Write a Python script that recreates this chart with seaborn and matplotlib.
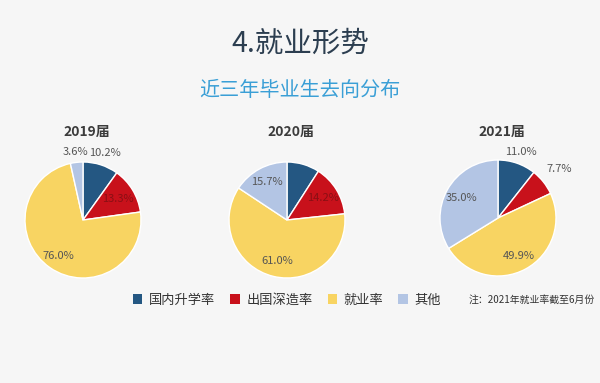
import numpy as np
import seaborn as sns
import matplotlib.pyplot as plt
from matplotlib.patches import Patch

# 数据
years = ['2019届', '2020届', '2021届']
categories = ['国内升学率', '出国深造率', '就业率', '其他']
values_2019 = [10.2, 13.3, 76.0, 3.6]
values_2020 = [9.1, 14.2, 61.0, 15.7]
values_2021 = [11.0, 7.7, 49.9, 35.0]
labels_2019 = ['10.2%', '13.3%', '76.0%', '3.6%']
labels_2020 = ['', '14.2%', '61.0%', '15.7%']
labels_2021 = ['11.0%', '7.7%', '49.9%', '35.0%']

sns.set_theme(style='white')
plt.rcParams['font.family'] = ['Noto Sans CJK SC', 'DejaVu Sans']

colors = sns.color_palette(['#245782', '#c8111b', '#f8d462', '#b3c5e4'])

fig = plt.figure(figsize=(6, 3.83), dpi=100)
fig.patch.set_facecolor('#f6f6f6')

# 标题
fig.text(0.5, 1 - 44 / 383, '4.就业形势', ha='center', va='center',
         fontsize=20.5, color='#2c3e50')
fig.text(0.5, 1 - 90 / 383, '近三年毕业生去向分布', ha='center', va='center',
         fontsize=14.5, color='#3a9fd6')

# 每个饼图: 中心(像素), 半径, 标签距离
centers = [(83, 220), (287, 220), (498, 218)]
radius = 58
dists = [[1.22, 0.7, 0.75, 1.18],
         [0.7, 0.72, 0.72, 0.75],
         [1.2, 1.35, 0.75, 0.72]]
all_values = [values_2019, values_2020, values_2021]
all_labels = [labels_2019, labels_2020, labels_2021]

lim = 1.6
for i, (cx, cy) in enumerate(centers):
    size = 2 * lim * radius
    ax = fig.add_axes([(cx - size / 2) / 600, (383 - cy - size / 2) / 383,
                       size / 600, size / 383])
    ax.set_facecolor('none')
    wedges, _ = ax.pie(all_values[i], colors=colors, startangle=90,
                       counterclock=False, radius=1)
    for j, w in enumerate(wedges):
        ang = np.deg2rad((w.theta1 + w.theta2) / 2)
        d = dists[i][j]
        # 红色扇区内的标签是深红色
        c = '#8a0f14' if (j == 1 and d < 1) else '#555555'
        ax.text(d * np.cos(ang), d * np.sin(ang), all_labels[i][j],
                ha='center', va='center', fontsize=8, color=c)
    ax.set_xlim(-lim, lim)
    ax.set_ylim(-lim, lim)
    ax.set_aspect('equal')
    ax.axis('off')
    fig.text((cx + 4) / 600, 1 - 132 / 383, years[i], ha='center', va='center',
             fontsize=10, fontweight='bold', color='#3c3c3c')

# 图例
handles = [Patch(facecolor=c, edgecolor='none') for c in colors]
fig.legend(handles, categories, loc='center', ncol=4, frameon=False,
           bbox_to_anchor=(287 / 600, 1 - 300 / 383), fontsize=9.5,
           handlelength=0.7, handleheight=0.7, handletextpad=0.5,
           columnspacing=1.15, labelcolor='#333333')

fig.text(469 / 600, 1 - 300 / 383, '注：2021年就业率截至6月份', ha='left',
         va='center', fontsize=7.1, color='#333333')

fig.savefig('out.png', dpi=100, facecolor=fig.get_facecolor())
